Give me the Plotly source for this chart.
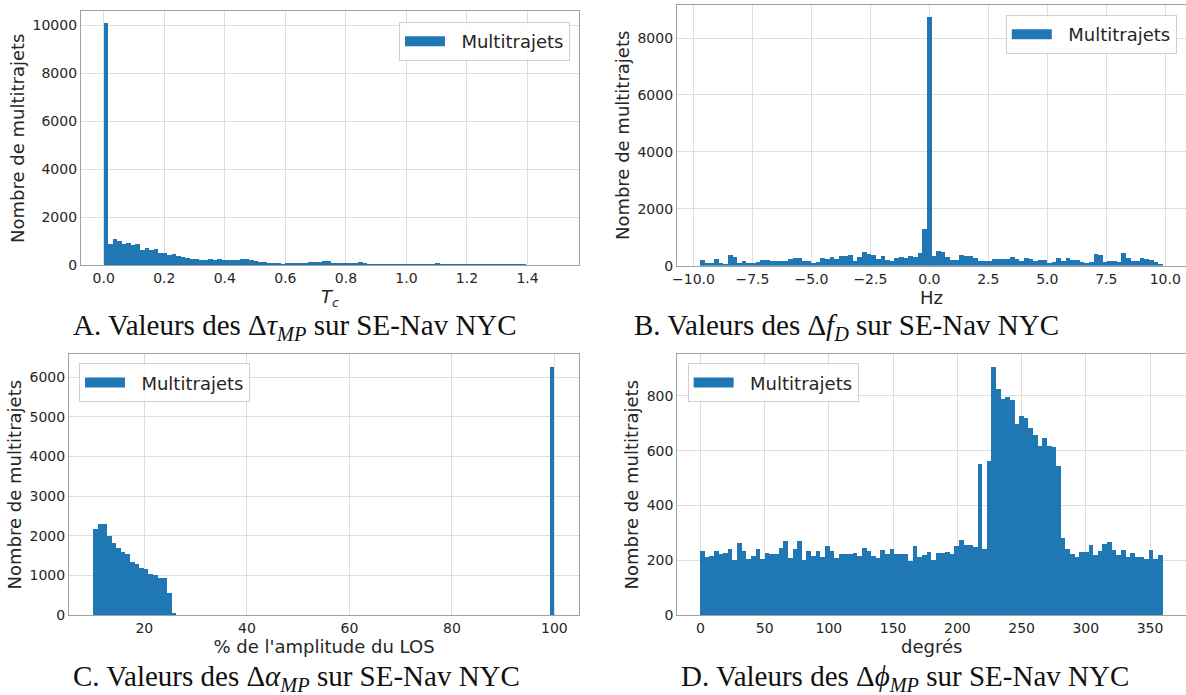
import numpy as np
import plotly.graph_objects as go

# --- data (histogram counts, 100 bins each) ---
tau_start, tau_width = 0.0, 0.015
tau_counts = [10080, 897, 1104, 1035, 883, 925, 856, 897, 649, 718,
              649, 690, 538, 511, 442, 469, 414, 345, 304, 262,
              262, 248, 248, 262, 248, 262, 248, 235, 221, 235,
              262, 262, 248, 193, 152, 152, 124, 110, 97, 69,
              97, 110, 110, 124, 124, 138, 152, 165, 170, 190,
              120, 110, 100, 100, 90, 110, 130, 100, 80, 70,
              75, 70, 75, 70, 80, 70, 65, 70, 65, 70,
              75, 70, 80, 110, 70, 65, 70, 60, 65, 60,
              45, 40, 45, 40, 35, 40, 45, 40, 35, 40,
              35, 40, 30, 20, 15, 20, 15, 15, 10, 15]

fd_start, fd_width = -9.72, 0.1962
fd_counts = [187, 82, 82, 234, 105, 47, 386, 316, 94, 152,
             82, 105, 129, 187, 199, 152, 164, 152, 175, 246,
             257, 269, 164, 164, 94, 140, 257, 234, 292, 222,
             339, 339, 386, 175, 316, 468, 410, 374, 246,
             330, 200, 176, 259, 294, 259, 341, 306, 447, 1294,
             8738, 330, 529, 494, 318, 200, 212, 376, 353, 330,
             282, 176, 153, 153, 223, 223, 223, 235, 318, 247,
             153, 270, 223, 153, 188, 188, 94, 141, 282, 153,
             259, 200, 200, 118, 106, 141, 412, 376, 129, 153,
             165, 129, 447, 270, 153, 176, 282, 235, 200, 141,
             59]

alpha_start, alpha_width = 10.0, 0.9
alpha_counts = [2151, 2295, 2287, 1999, 1821, 1677, 1584, 1525, 1330, 1287,
                1169, 1143, 1033, 999, 923, 915, 550, 25] + [0] * 81 + [6252]

phi_start, phi_width = 0.0, 3.6
phi_counts = [234, 210, 213, 234, 223, 226, 240, 201, 262, 234,
              204, 216, 241, 205, 226, 221, 223, 244, 270, 206,
              240, 270, 201, 234, 216, 234, 210, 252, 234, 206,
              223, 223, 223, 227, 215, 244, 233, 213, 206,
              237, 220, 240, 220, 220, 223, 195, 252, 211, 218,
              230, 201, 224, 224, 230, 220, 250, 273, 254, 254,
              246, 552, 240, 561, 906, 826, 789, 795, 783, 695,
              726, 720, 683, 657, 616, 646, 616, 613, 543, 280,
              240, 222, 211, 228, 228, 254, 217, 232, 259, 265,
              235, 218, 238, 210, 226, 210, 209, 204, 238, 205,
              218]

captions = ["A. Valeurs des Δ<i>τ</i><sub><i>MP</i></sub> sur SE-Nav NYC",
            "B. Valeurs des Δ<i>f</i><sub><i>D</i></sub> sur SE-Nav NYC",
            "C. Valeurs des Δ<i>α</i><sub><i>MP</i></sub> sur SE-Nav NYC",
            "D. Valeurs des Δ<i>ϕ</i><sub><i>MP</i></sub> sur SE-Nav NYC"]
xtitles = ["<i>T</i><sub><i>c</i></sub>", "Hz", "% de l'amplitude du LOS", "degrés"]

BLUE = "#1f77b4"
FONT = "DejaVu Sans"
TXT = "#262626"

panels = [
    dict(start=tau_start, width=tau_width, counts=tau_counts,
         xdom=[0.0683, 0.4882], ydom=[0.618, 0.9842],
         xrange=[-0.075, 1.57], yrange=[0, 10600], dtick_y=2000,
         xticks=[0.0, 0.2, 0.4, 0.6, 0.8, 1.0, 1.2, 1.4], xfmt=".1f",
         leg=dict(x=0.4806, y=0.9683, xanchor="right")),
    dict(start=fd_start, width=fd_width, counts=fd_counts,
         xdom=[0.5708, 1.0], ydom=[0.6177, 0.9928],
         xrange=[-10.7, 10.88], yrange=[0, 9160], dtick_y=2000,
         xticks=[-10, -7.5, -5, -2.5, 0, 2.5, 5, 7.5, 10], xfmt=".1f",
         leg=dict(x=0.9922, y=0.9784, xanchor="right")),
    dict(start=alpha_start, width=alpha_width, counts=alpha_counts,
         xdom=[0.0582, 0.4882], ydom=[0.1151, 0.4902],
         xrange=[5.3, 104.8], yrange=[0, 6580], dtick_y=1000,
         xticks=[20, 40, 60, 80, 100], xfmt="d",
         leg=dict(x=0.0666, y=0.4773, xanchor="left")),
    dict(start=phi_start, width=phi_width, counts=phi_counts,
         xdom=[0.5711, 1.0], ydom=[0.1151, 0.4902],
         xrange=[-18, 378], yrange=[0, 952], dtick_y=200,
         xticks=[0, 50, 100, 150, 200, 250, 300, 350], xfmt="d",
         leg=dict(x=0.5798, y=0.4773, xanchor="left")),
]

fig = go.Figure()
layout = dict(width=1186, height=695, margin=dict(l=0, r=0, t=0, b=0),
              plot_bgcolor="white", paper_bgcolor="white", bargap=0,
              font=dict(family=FONT, size=14, color=TXT))

for i, p in enumerate(panels):
    n = i + 1
    sfx = "" if n == 1 else str(n)
    counts = np.array(p["counts"], dtype=float)
    centers = p["start"] + p["width"] * (np.arange(len(counts)) + 0.5)
    fig.add_trace(go.Bar(x=centers, y=counts, width=p["width"], name="Multitrajets",
                         marker=dict(color=BLUE, line=dict(width=0)),
                         xaxis="x" + sfx, yaxis="y" + sfx,
                         legendgroup="mt" + sfx, showlegend=False))
    # legend key drawn as a wide patch, like matplotlib's
    fig.add_trace(go.Scatter(x=[None], y=[None], mode="lines",
                             name="\u00a0\u00a0Multitrajets",
                             line=dict(color=BLUE, width=13),
                             xaxis="x" + sfx, yaxis="y" + sfx,
                             legend="legend" + sfx, legendgroup="mt" + sfx,
                             showlegend=True, hoverinfo="skip"))
    axis_common = dict(showline=True, linecolor="#a0a0a0", linewidth=1.2, mirror=True,
                       showgrid=True, gridcolor="#dddddd", gridwidth=1, zeroline=False,
                       ticks="", tickfont=dict(size=14, family=FONT, color=TXT),
                       automargin=False)
    layout["xaxis" + sfx] = dict(axis_common, domain=p["xdom"], range=p["xrange"],
                                  anchor="y" + sfx, tickmode="array", tickvals=p["xticks"],
                                  tickformat=p["xfmt"],
                                  title=dict(text=xtitles[i], standoff=0,
                                             font=dict(size=18, family=FONT, color=TXT)))
    layout["yaxis" + sfx] = dict(axis_common, domain=p["ydom"], range=p["yrange"],
                                  anchor="x" + sfx, dtick=p["dtick_y"], tick0=0,
                                  tickformat="d",
                                  title=dict(text="Nombre de multitrajets", standoff=3,
                                             font=dict(size=18, family=FONT, color=TXT)))
    layout["legend" + sfx] = dict(x=p["leg"]["x"], y=p["leg"]["y"], xanchor=p["leg"]["xanchor"],
                                  yanchor="top", bgcolor="rgba(255,255,255,0.85)",
                                  bordercolor="#d0d0d0", borderwidth=1,
                                  font=dict(size=18, family=FONT, color=TXT),
                                  itemwidth=40)

cap_pos = [(0.249, 0.5295), (0.714, 0.5295), (0.250, 0.0245), (0.763, 0.0245)]
annotations = []
for txt, (cx, cy) in zip(captions, cap_pos):
    annotations.append(dict(text=txt, x=cx, y=cy, xref="paper", yref="paper",
                            xanchor="center", yanchor="middle", showarrow=False,
                            font=dict(size=29, family="Liberation Serif", color="#111111")))
layout["annotations"] = annotations

fig.update_layout(**layout)
fig.write_html("out.html", config={"displayModeBar": False},
               post_script="document.body.style.margin='0';document.body.style.overflow='hidden';")
